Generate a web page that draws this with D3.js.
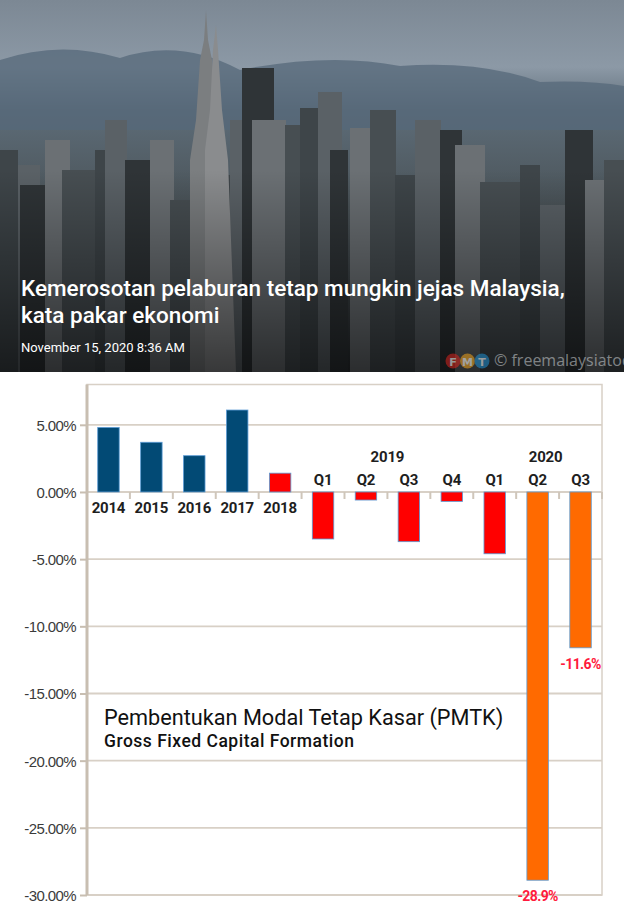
<!DOCTYPE html>
<html>
<head>
<meta charset="utf-8">
<script src="https://cdn.jsdelivr.net/npm/d3@7"></script>
<style>
  html, body { margin: 0; padding: 0; background: #fff; }
  svg { display: block; }
</style>
</head>
<body>
<div id="chart"></div>
<script>
// Gross fixed capital formation growth, % (annual then quarterly)
const periods = ["2014", "2015", "2016", "2017", "2018",
  "2019 Q1", "2019 Q2", "2019 Q3", "2019 Q4",
  "2020 Q1", "2020 Q2", "2020 Q3"];
const tickLabels = ["2014", "2015", "2016", "2017", "2018",
  "Q1", "Q2", "Q3", "Q4", "Q1", "Q2", "Q3"];
const growth = [4.8, 3.7, 2.7, 6.1, 1.4, -3.5, -0.6, -3.7, -0.7, -4.6, -28.9, -11.6];
const labelled = ["2020 Q2", "2020 Q3"];
const quarterYears = ["2019", "2020"];
const yTicks = [5, 0, -5, -10, -15, -20, -25, -30];

const W = 624, H = 918;
const narrow = "Roboto, 'DejaVu Sans Condensed', sans-serif";

const svg = d3.select("#chart")
    .append("svg")
    .attr("width", W)
    .attr("height", H);

// ---- header photo (approximated) ----
const defs = svg.append("defs");
const sky = defs.append("linearGradient")
    .attr("id", "sky").attr("x1", 0).attr("y1", 0).attr("x2", 0).attr("y2", 1);
sky.append("stop").attr("offset", "0").attr("stop-color", "#7c8894");
sky.append("stop").attr("offset", "0.18").attr("stop-color", "#8c99a6");
sky.append("stop").attr("offset", "0.3").attr("stop-color", "#5d6c78");
sky.append("stop").attr("offset", "0.55").attr("stop-color", "#4b5459");
sky.append("stop").attr("offset", "1").attr("stop-color", "#2a2e31");

const shade = defs.append("linearGradient")
    .attr("id", "shade").attr("x1", 0).attr("y1", 0).attr("x2", 0).attr("y2", 1);
shade.append("stop").attr("offset", "0").attr("stop-color", "#000").attr("stop-opacity", 0);
shade.append("stop").attr("offset", "1").attr("stop-color", "#000").attr("stop-opacity", 0.6);

const photo = svg.append("g");
photo.append("rect")
    .attr("width", W).attr("height", 372)
    .attr("fill", "url(#sky)");

// hills behind the city
photo.append("path")
    .attr("d", "M0 60 Q60 40 120 58 Q180 38 240 70 Q330 52 400 66 Q480 60 540 82 Q590 80 624 86 L624 130 L0 130 Z")
    .attr("fill", "#55687a").attr("opacity", 0.75);

// rough skyline: [x, width, top]
const skyline = [
  [0, 18, 150], [18, 22, 165], [20, 35, 185], [45, 25, 140], [62, 34, 170],
  [95, 30, 150], [105, 22, 120], [125, 28, 160], [150, 24, 140], [170, 30, 200],
  [196, 40, 175], [230, 18, 120], [242, 32, 68], [252, 34, 120], [285, 22, 125],
  [300, 28, 108], [318, 24, 92], [330, 18, 150], [350, 28, 128], [370, 26, 110],
  [395, 22, 175], [415, 26, 120], [440, 22, 130], [455, 30, 145], [480, 44, 182],
  [520, 20, 165], [540, 30, 205], [565, 28, 130], [585, 38, 180], [604, 20, 160]
];
photo.selectAll("rect.bld")
  .data(skyline)
  .join("rect")
    .attr("class", "bld")
    .attr("x", d => d[0]).attr("y", d => d[2])
    .attr("width", d => d[1]).attr("height", d => 372 - d[2])
    .attr("fill", (d, i) => ["#3e4549", "#5a6166", "#2f3437", "#6b7074", "#474e52"][i % 5]);

// twin towers
photo.append("path")
    .attr("d", "M190 372 L190 160 L196 120 L200 60 L204 40 L206 10 L208 40 L212 60 L216 120 L222 170 L228 372 Z")
    .attr("fill", "#7b7e80");
photo.append("path")
    .attr("d", "M205 372 L205 150 L210 110 L213 50 L216 25 L218 50 L222 110 L228 160 L236 372 Z")
    .attr("fill", "#8a8c8e");

photo.append("rect")
    .attr("y", 170).attr("width", W).attr("height", 202)
    .attr("fill", "url(#shade)");

// headline
const head = svg.append("g").attr("fill", "#fff").style("font-family", "Roboto, 'Open Sans', sans-serif");
head.append("text")
    .attr("x", 21).attr("y", 296)
    .style("font-size", "22.5px").style("font-weight", 500)
    .text("Kemerosotan pelaburan tetap mungkin jejas Malaysia,");
head.append("text")
    .attr("x", 21).attr("y", 323)
    .style("font-size", "22.5px").style("font-weight", 500)
    .text("kata pakar ekonomi");
head.append("text")
    .attr("x", 21).attr("y", 352)
    .style("font-size", "13px")
    .text("November 15, 2020 8:36 AM");

// watermark
const wm = svg.append("g").attr("opacity", 0.55);
wm.selectAll("circle")
  .data(["F", "M", "T"])
  .join("circle")
    .attr("cx", (d, i) => 453 + i * 14.5).attr("cy", 361).attr("r", 7.5)
    .attr("fill", (d, i) => ["#d8241d", "#f2a31b", "#1f8fd0"][i]);
wm.selectAll("text.l")
  .data(["F", "M", "T"])
  .join("text")
    .attr("class", "l")
    .attr("x", (d, i) => 453 + i * 14.5).attr("y", 365.5)
    .attr("text-anchor", "middle")
    .attr("fill", "#fff")
    .style("font", "bold 11px 'DejaVu Sans', sans-serif")
    .text(d => d);
wm.append("text")
    .attr("x", 494).attr("y", 366)
    .attr("fill", "#cfd3d6")
    .style("font", "16px 'Open Sans', sans-serif")
    .text("© freemalaysiatoday");

// ---- chart ----
const x = d3.scaleBand()
    .domain(periods)
    .range([87, 602]);

const y = d3.scaleLinear()
    .domain([-30, 8])
    .range([895, 384.5]);

const grid = "#d8d0c6";
const g = svg.append("g");

// frame + gridlines
g.append("rect")
    .attr("x", x.range()[0]).attr("y", y(8))
    .attr("width", x.range()[1] - x.range()[0]).attr("height", y(-30) - y(8))
    .attr("fill", "none").attr("stroke", grid).attr("stroke-width", 1.5);

g.selectAll("line.grid")
  .data(yTicks)
  .join("line")
    .attr("class", "grid")
    .attr("x1", x.range()[0]).attr("x2", x.range()[1])
    .attr("y1", d => y(d)).attr("y2", d => y(d))
    .attr("stroke", grid)
    .attr("stroke-width", d => d === 0 ? 2 : 1.8);

// ticks between categories on the zero line
g.selectAll("line.xtick")
  .data(periods.slice(1).map(p => x(p)).concat([x.range()[1]]))
  .join("line")
    .attr("class", "xtick")
    .attr("x1", d => d).attr("x2", d => d)
    .attr("y1", y(0)).attr("y2", y(0) + 7)
    .attr("stroke", "#cfc6ba").attr("stroke-width", 2);

// left axis
const yAxis = d3.axisLeft(y)
    .tickValues(yTicks)
    .tickSize(7)
    .tickSizeOuter(0)
    .tickFormat(d => d.toFixed(2) + "%");

const ya = g.append("g")
    .attr("transform", `translate(${x.range()[0]},0)`)
    .call(yAxis);
ya.select(".domain")
    .attr("d", `M0,${y(8)}V${y(-30)}`)
    .attr("stroke", "#c8beb1").attr("stroke-width", 3);
ya.selectAll(".tick line").attr("stroke", "#c8beb1").attr("stroke-width", 2);
ya.selectAll(".tick text")
    .attr("x", -11)
    .attr("dy", "0.36em")
    .attr("fill", "#3b3b3b")
    .style("font-family", "'Liberation Sans', Arial, sans-serif")
    .style("font-size", "15px")
    .style("letter-spacing", "-0.6px");

// bars
const blue = "#024a75", red = "#ff0000", orange = "#ff6a00";
const colour = p => labelled.includes(p) ? orange : (+p.slice(0, 4) >= 2018 ? red : blue);
const bw = x.bandwidth() * 0.5;

g.selectAll("rect.bar")
  .data(periods)
  .join("rect")
    .attr("class", "bar")
    .attr("x", p => x(p) + (x.bandwidth() - bw) / 2)
    .attr("y", (p, i) => y(Math.max(0, growth[i])))
    .attr("width", bw)
    .attr("height", (p, i) => Math.abs(y(growth[i]) - y(0)))
    .attr("fill", colour)
    .attr("stroke", "#5b9bd5")
    .attr("stroke-width", 0.8);

// category labels
g.selectAll("text.cat")
  .data(periods)
  .join("text")
    .attr("class", "cat")
    .attr("x", p => x(p) + x.bandwidth() / 2)
    .attr("y", p => p.includes("Q") ? y(0) - 7 : y(0) + 21)
    .attr("text-anchor", "middle")
    .attr("fill", "#1e1e1e")
    .style("font-family", narrow)
    .style("font-weight", "bold")
    .style("font-size", "15px")
    .style("letter-spacing", "-0.2px")
    .text((p, i) => tickLabels[i]);

// year group labels over the quarters
g.selectAll("text.grp")
  .data(quarterYears)
  .join("text")
    .attr("class", "grp")
    .attr("x", yr => {
      const qs = periods.filter(p => p.startsWith(yr + " "));
      const a = x(qs[0]), b = x(qs[qs.length - 1]) + x.bandwidth();
      return (a + b) / 2 + (qs.length < 4 ? 8 : 0);
    })
    .attr("y", y(0) - 30)
    .attr("text-anchor", "middle")
    .attr("fill", "#1e1e1e")
    .style("font-family", narrow)
    .style("font-weight", "bold")
    .style("font-size", "15px")
    .style("letter-spacing", "-0.2px")
    .text(yr => yr);

// value labels
g.selectAll("text.val")
  .data(labelled)
  .join("text")
    .attr("class", "val")
    .attr("x", p => x(p) + x.bandwidth() / 2)
    .attr("y", p => y(growth[periods.indexOf(p)]) + 21)
    .attr("text-anchor", "middle")
    .attr("fill", "#ff1a3c")
    .style("font-family", narrow)
    .style("font-weight", "bold")
    .style("font-size", "14px")
    .style("letter-spacing", "-0.6px")
    .text(p => growth[periods.indexOf(p)].toFixed(1) + "%");

// in-chart title
g.append("text")
    .attr("x", 104).attr("y", 725)
    .attr("fill", "#111")
    .style("font-family", "Roboto, 'Liberation Sans', sans-serif")
    .style("font-size", "21.7px")
    .text("Pembentukan Modal Tetap Kasar (PMTK)");
g.append("text")
    .attr("x", 104).attr("y", 747)
    .attr("fill", "#111")
    .style("font-family", "Roboto, 'Liberation Sans', sans-serif")
    .style("font-size", "17.5px")
    .style("font-weight", 500)
    .style("letter-spacing", "0.5px")
    .text("Gross Fixed Capital Formation");
</script>
</body>
</html>
